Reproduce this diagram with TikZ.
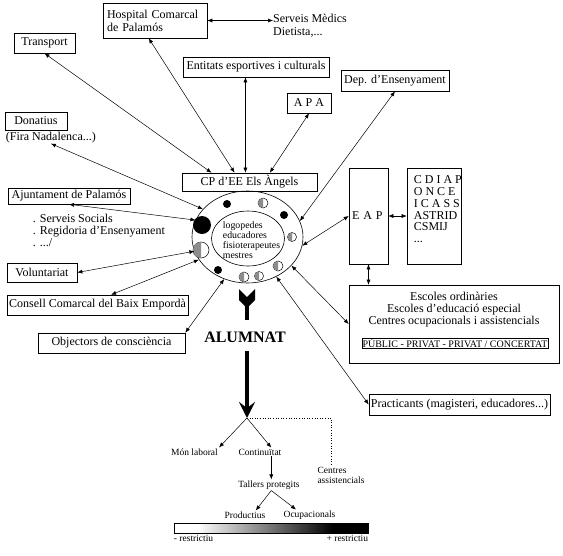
\documentclass[tikz,border=0pt]{standalone}
\usepackage{fontspec}
\setmainfont{Liberation Serif}
\usetikzlibrary{positioning}
\usetikzlibrary{calc}
\usetikzlibrary{shapes.geometric}
\usetikzlibrary{arrows.meta}
\tikzset{smalltip/.tip={Latex[length=5pt,width=4pt]}}
\pgfdeclarehorizontalshading{restr}{100bp}{color(0bp)=(white); color(31bp)=(white); color(66bp)=(black); color(100bp)=(black)}

\begin{document}
\begin{tikzpicture}[x=1pt,y=-1pt,
        every node/.style={font=\fontsize{12}{13}\selectfont},
        box/.style={draw, line width=0.6pt, inner sep=1pt},
        twoway/.style={smalltip-smalltip, line width=0.5pt},
        oneway/.style={-smalltip, line width=0.5pt},
        smalltext/.style={font=\fontsize{9.5}{10}\selectfont, inner sep=1pt}]
            \useasboundingbox (0,0) rectangle (563,555);

            % boxes round the centre
            \node (hospital) [box, minimum width=104pt, minimum height=35pt, text width=96pt, align=left] at (155,20.5) {Hospital Comarcal\\de Palamós};
            \node (serveis) [anchor=west, align=left, inner sep=0pt] at (273,25.5) {Serveis Mèdics\\Dietista,...};
            \node (transport) [box, minimum width=61pt, minimum height=20pt] at (44.5,43) {Transport};
            \node (entitats) [box, minimum width=146pt, minimum height=20pt] at (256,67) {Entitats esportives i culturals};
            \node (dep) [box, minimum width=108pt, minimum height=21pt] at (395,80.5) {Dep. d'Ensenyament};
            \node (apa) [box, minimum width=44pt, minimum height=20pt] at (309,103) {A P A};
            \node (donatius) [box, minimum width=62pt, minimum height=18pt] at (36,121) {Donatius};
            \node (fira) [below right=2pt and 1pt of donatius.south west, inner sep=0pt] {(Fira Nadalenca...)};
            \node (cp) [box, minimum width=135pt, minimum height=18pt] at (249.5,182) {CP d'EE Els Àngels};
            \node (ajunt) [box, minimum width=122pt, minimum height=16pt] at (69,196) {Ajuntament de Palamós};
            \node (ajlist) [below right=10pt and 25pt of ajunt.south west, align=left, inner sep=0pt, font=\fontsize{12}{12}\selectfont] {. Serveis Socials\\. Regidoria d'Ensenyament\\. .../};
            \node (volunt) [box, minimum width=70pt, minimum height=19pt] at (42,272.5) {Voluntariat};
            \node (consell) [box, minimum width=181pt, minimum height=20pt] at (97.5,305) {Consell Comarcal del Baix Empordà};
            \node (object) [box, minimum width=147pt, minimum height=20pt] at (111.5,343) {Objectors de consciència};
            \node (eap) [box, minimum width=39pt, minimum height=96pt, text width=33pt, align=left] at (368.5,216) {E A P};
            \node (cdiap) [box, minimum width=54pt, minimum height=96pt] at (434,216) {};
            \node (cdiaplist) [below right=8pt and 7pt of cdiap.north west, align=left, inner sep=0pt, font=\fontsize{12}{11.75}\selectfont] {C D I A P\\O N C E\\I C A S S\\ASTRID\\CSMIJ\\...};
            \node (escoles) [box, minimum width=210pt, minimum height=78pt] at (454,324) {};
            \node (escoleslist) [below=7pt of escoles.north, align=center, inner sep=0pt, font=\fontsize{12}{12}\selectfont] {Escoles ordinàries\\Escoles d'educació especial\\Centres ocupacionals i assistencials};
            \node (public) [box, inner sep=0.5pt, font=\fontsize{10}{10}\selectfont] at (455,343.5) {PÚBLIC - PRIVAT - PRIVAT / CONCERTAT};
            \node (practicants) [box, minimum width=181pt, minimum height=21pt] at (459.5,404.5) {Practicants (magisteri, educadores...)};

            % the school
            \node (outer) [ellipse, draw, line width=0.6pt, minimum width=111pt, minimum height=92pt, inner sep=0pt] at (247.5,237) {};
            \node (inner) [ellipse, draw, line width=0.6pt, minimum width=73pt, minimum height=55pt, inner sep=0pt] at (248,238.5) {};
            \node (staff) [align=left, inner sep=0pt, font=\fontsize{9.8}{10}\selectfont] at (251.5,240) {logopedes\\educadores\\fisioterapeutes\\mestres};
            \foreach \cx/\cy/\r in {227/204/4, 284/215/4, 202/225/9, 218/270/4}
                \fill (\cx,\cy) circle (\r pt);
            \foreach \cx/\cy/\r in {263/203/5, 201/250/8, 292/237/4.5, 244/277/5, 259/276/4.5, 278/266/5} {
                \draw[fill=white, line width=0.5pt] (\cx,\cy) circle (\r pt);
                \fill[black!45] (\cx,\cy) ++(0,\r pt) arc (90:270:\r pt) -- cycle;
            }

            % links
            \coordinate (cpA) at ($(cp.north west)!0.22!(cp.north east)$);
            \coordinate (cpB) at ($(cp.north west)!0.39!(cp.north east)$);
            \coordinate (cpC) at ($(cp.north west)!0.47!(cp.north east)$);
            \coordinate (cpD) at ($(cp.north west)!0.65!(cp.north east)$);
            \draw[twoway] (cpA) -- (transport.south);
            \draw[twoway] (cpB) -- ($(hospital.south west)!0.44!(hospital.south east)$);
            \draw[twoway] (cpC) -- (cpC |- entitats.south);
            \draw[twoway] (cpD) -- (apa.south);
            \draw[twoway] (hospital.east) -- (hospital.east -| serveis.west);
            \draw[twoway] (outer.17) -- (dep.south);
            \draw[twoway] (outer.148) -- (fira.south);
            \draw[twoway] (outer.162) -- (ajunt.south);
            \draw[twoway] (outer.195) -- (volunt.east);
            \draw[twoway] (outer.205) -- ($(consell.north)!0.15!(consell.north east)$);
            \draw[twoway] (outer.241) -- (object.north east);
            \draw[twoway] (outer.306) -- (practicants.west);
            \draw[twoway] (outer.327) -- (escoles.west);
            \draw[twoway] (outer.351) -- (eap.west);
            \draw[twoway] (eap.east) -- (cdiap.west);
            \draw[twoway] (eap.south) -- (eap.south |- escoles.north);

            % pupils
            \node (alumnat) [font=\bfseries\fontsize{16}{16}\selectfont, inner sep=0pt] at (245,337) {ALUMNAT};
            \coordinate (root) at (247,418);
            \fill (239,289) -- (247,297) -- (255,289) -- (255,300) -- (247,308) -- (239,300) -- cycle;
            \draw[line width=4pt, shorten <=17pt, shorten >=11.5pt] (outer.south -| root) -- (alumnat.north -| root);
            \draw[line width=4pt, shorten <=8.5pt, -{Stealth[length=16pt,width=16pt,inset=6pt]}] (alumnat.south -| root) -- (root);

            % after school
            \node (mon) [smalltext] at (194.5,452) {Món laboral};
            \node (cont) [smalltext] at (260,452) {Continuïtat};
            \node (centres) [smalltext, align=left] at (341,475) {Centres\\assistencials};
            \node (tallers) [smalltext] at (269,485) {Tallers protegits};
            \node (prod) [smalltext] at (245,515) {Productius};
            \node (ocup) [smalltext] at (309.5,515) {Ocupacionals};
            \coordinate (tdrop) at ($(cont.south)!0.5!(cont.south east)$);
            \draw[oneway] (root) -- (mon.north east);
            \draw[oneway] (root) -- ($(cont.north)!0.5!(cont.north east)$);
            \draw[dotted, line width=0.6pt] (root) -| ($(centres.north west)!0.3!(centres.north east)$);
            \draw[oneway] (tdrop) -- (tdrop |- tallers.north);
            \draw[oneway] (tdrop |- tallers.south) -- ($(prod.north)!0.5!(prod.north east)$);
            \draw[oneway] (tdrop |- tallers.south) -- ($(ocup.north)!0.5!(ocup.north west)$);

            % scale
            \node (bar) [draw, line width=0.6pt, shade, shading=restr, minimum width=194pt, minimum height=10pt, inner sep=0pt] at (271,528) {};
            \node (lessr) [smalltext, anchor=north west, inner sep=0pt, yshift=-1.5pt] at (bar.south west) {- restrictiu};
            \node (morer) [smalltext, anchor=north east, inner sep=0pt, yshift=-1.5pt] at (bar.south east) {+ restrictiu};
        \end{tikzpicture}
\end{document}
